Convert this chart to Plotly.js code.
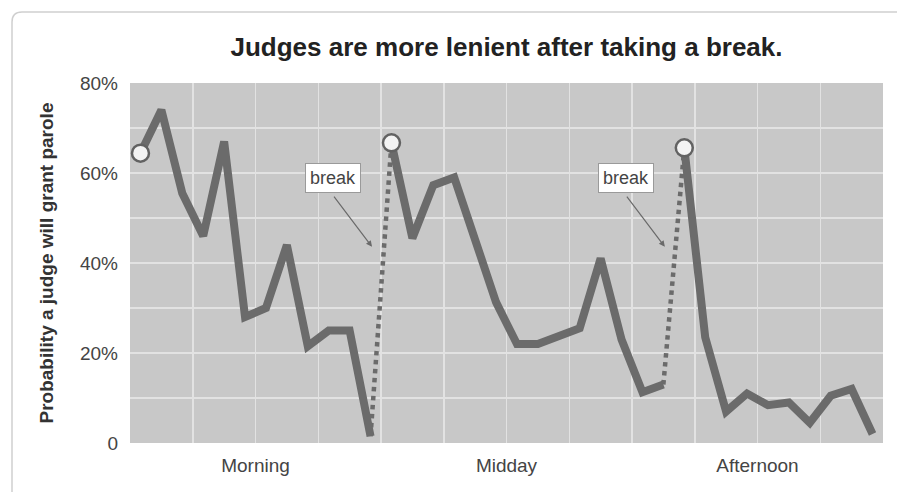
<!DOCTYPE html>
<html>
<head>
<meta charset="utf-8">
<script src="https://cdn.plot.ly/plotly-3.0.1.min.js"></script>
<style>
  html, body { margin: 0; padding: 0; background: #ffffff; }
  #chart { width: 897px; height: 492px; }
</style>
</head>
<body>
<div id="chart"></div>
<script>
// ---- Data (decision ordinal within the day, probability in %) ----
const morningX = [0, 1, 2, 3, 4, 5, 6, 7, 8, 9, 10, 11];
const morningY = [64.4, 74, 55.5, 46, 67, 28, 30, 44, 21.5, 25, 25, 1.5];

const middayX = [12, 13, 14, 15, 17, 18, 19, 21, 22, 23, 24, 25];
const middayY = [66.7, 45.5, 57.3, 59, 31.3, 22, 22, 25.5, 41, 23, 11.3, 13];

const afternoonX = [26, 27, 28, 29, 30, 31, 32, 33, 34, 35];
const afternoonY = [65.6, 23.5, 7, 11, 8.4, 9, 4.5, 10.5, 12, 2];

const sessionLabels = ["Morning", "Midday", "Afternoon"];
const sessionLabelPos = [5.5, 17.5, 29.5];

const yTickVals = [0, 20, 40, 60, 80];
const yTickText = ["0", "20%", "40%", "60%", "80%"];

const breakLabel = "break";
const titleText = "Judges are more lenient after taking a break.";
const yTitleText = "Probability a judge will grant parole";

// ---- Styles ----
const FONT = "'Liberation Sans', Arial, Helvetica, sans-serif";
const LINE_COLOR = "#6b6b6b";
const GRID_COLOR = "#e2e2e2";
const sessions = [[morningX, morningY], [middayX, middayY], [afternoonX, afternoonY]];

const traces = [];

// dotted "break" connectors (end of one session -> start of next)
for (let i = 0; i < sessions.length - 1; i++) {
  const [ax, ay] = sessions[i];
  const [bx, by] = sessions[i + 1];
  traces.push({
    x: [ax[ax.length - 1], bx[0]],
    y: [ay[ay.length - 1], by[0]],
    mode: "lines",
    line: { color: LINE_COLOR, width: 4.5, dash: "4.5px,4.5px" },
    hoverinfo: "skip"
  });
}

// solid session lines
sessions.forEach(([sx, sy]) => {
  traces.push({
    x: sx, y: sy,
    mode: "lines",
    line: { color: LINE_COLOR, width: 8 },
    hoverinfo: "skip"
  });
});

// circles at the start of each session
traces.push({
  x: sessions.map(s => s[0][0]),
  y: sessions.map(s => s[1][0]),
  mode: "markers",
  marker: { size: 17, color: "#f3f3f3", line: { color: "#626262", width: 2.5 } },
  cliponaxis: false,
  hoverinfo: "skip"
});

// break annotations (label + arrow), anchored after each session's end
const annotations = [];
for (let i = 0; i < sessions.length - 1; i++) {
  const endX = sessions[i][0][sessions[i][0].length - 1];
  annotations.push({
    x: endX - 1.8, y: 58.9, xref: "x", yref: "y",
    text: breakLabel, showarrow: false,
    font: { family: FONT, size: 18, color: "#444" },
    bgcolor: "#ffffff", bordercolor: "#9a9a9a", borderwidth: 1, borderpad: 4
  });
  annotations.push({
    x: endX + 0.07, y: 43.6, xref: "x", yref: "y",
    ax: endX - 1.8, ay: 55.1, axref: "x", ayref: "y",
    text: "", showarrow: true,
    arrowhead: 2, arrowsize: 1, arrowwidth: 1.2, arrowcolor: "#6a6a6a"
  });
}

// outer rounded frame (paper coords; plot area spans px 130..883 x 83..443)
const px2x = p => (p - 130) / 753;
const py2y = p => (443 - p) / 360;
const x0 = px2x(12), yt = py2y(12), x1 = px2x(910), yb = py2y(505);
const rx = 10 / 753, ry = 10 / 360;
const framePath = `M ${x0} ${yb} L ${x0} ${yt - ry} Q ${x0} ${yt} ${x0 + rx} ${yt} L ${x1} ${yt}`;

const layout = {
  width: 897, height: 492,
  margin: { l: 130, r: 14, t: 83, b: 49, pad: 0 },
  paper_bgcolor: "#ffffff",
  plot_bgcolor: "#c8c8c8",
  showlegend: false,
  font: { family: FONT, color: "#444" },
  title: {
    text: titleText,
    font: { family: FONT, size: 26, color: "#222", weight: "bold" },
    x: 0.5, xref: "paper", xanchor: "center",
    y: 1 - 47 / 492, yref: "container", yanchor: "middle"
  },
  xaxis: {
    range: [-0.5, 35.5],
    tickmode: "array", tickvals: sessionLabelPos, ticktext: sessionLabels,
    tickfont: { family: FONT, size: 19, color: "#444" },
    ticks: "", ticklabelstandoff: 9,
    showgrid: true, gridcolor: GRID_COLOR, gridwidth: 1.5,
    minor: { tick0: -0.5, dtick: 3, showgrid: true, gridcolor: GRID_COLOR, gridwidth: 1.5, ticks: "" },
    zeroline: false, showline: false, fixedrange: true
  },
  yaxis: {
    range: [0, 80],
    tickmode: "array", tickvals: yTickVals, ticktext: yTickText,
    tickfont: { family: FONT, size: 19, color: "#444" },
    ticks: "", ticklabelstandoff: 11,
    showgrid: true, gridcolor: GRID_COLOR, gridwidth: 1.5,
    minor: { dtick: 10, showgrid: true, gridcolor: GRID_COLOR, gridwidth: 1.5, ticks: "" },
    zeroline: false, showline: false, fixedrange: true,
    title: {
      text: yTitleText,
      font: { family: FONT, size: 19, color: "#333", weight: "bold" },
      standoff: 21
    }
  },
  annotations: annotations,
  shapes: [{
    type: "path", xref: "paper", yref: "paper", path: framePath,
    line: { color: "#cfcfcf", width: 1.5 }
  }]
};

Plotly.newPlot("chart", traces, layout, { staticPlot: true, displayModeBar: false });
</script>
</body>
</html>
